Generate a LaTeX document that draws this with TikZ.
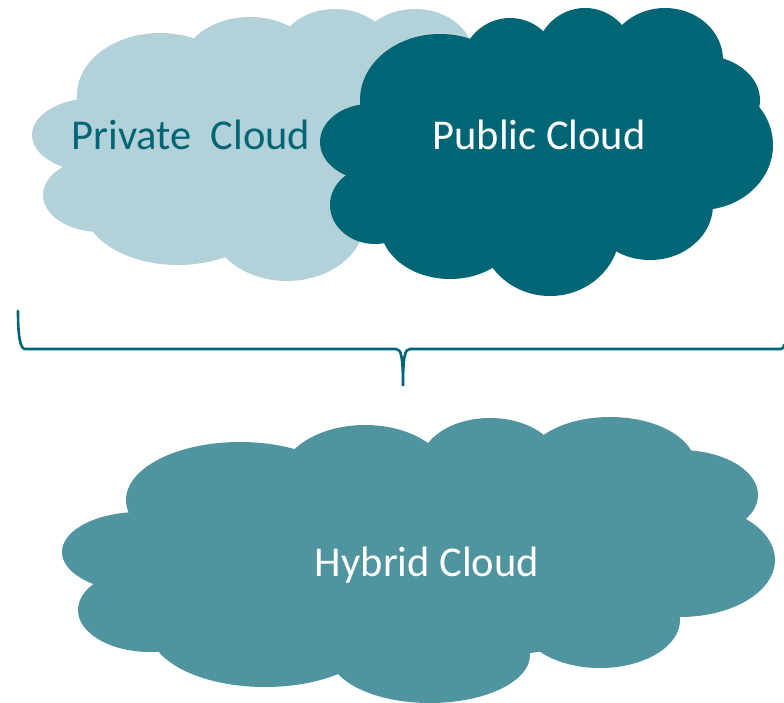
\documentclass[tikz,border=0pt]{standalone}
\usepackage{fontspec}
\setmainfont{Carlito}
\definecolor{lightcloud}{HTML}{B3D1D8}
\definecolor{darkcloud}{HTML}{006675}
\definecolor{midcloud}{HTML}{4F949F}
\tikzset{
  cloudtext/.style={font=\fontsize{42.5pt}{46pt}\selectfont, inner sep=0pt},
  bracket/.style={draw=darkcloud, line width=2.6pt, line cap=round}
}
\begin{document}
\begin{tikzpicture}[x=1pt, y=-1pt]
  \useasboundingbox (0,0) rectangle (784,703);
  % private cloud
  \foreach \cx/\cy/\rx/\ry in {160/95/83/62, 250/70/70/53, 335/50/55/41, 415/55/58/46,
      95/135/63/37, 100/195/57/37, 178/205/95/60, 287/220/78/61, 250/140/150/90, 340/110/70/70}
    \fill[lightcloud] (\cx,\cy) ellipse ({\rx} and {\ry});
  % public cloud
  \foreach \cx/\cy/\rx/\ry in {440/100/80/66, 510/70/50/52, 585/60/50/52, 665/60/58/52,
      700/100/60/45, 700/145/73/65, 650/205/63/55, 550/230/70/66, 450/225/70/54,
      375/205/45/39, 370/142/50/38, 540/150/170/100}
    \fill[darkcloud] (\cx,\cy) ellipse ({\rx} and {\ry});
  % hybrid cloud
  \foreach \cx/\cy/\rx/\ry in {240/500/114/58, 365/480/85/55, 490/465/70/47, 610/465/85/48,
      680/495/78/45, 680/560/95/57, 600/620/80/48, 430/655/100/48, 265/630/115/57,
      150/610/72/42, 140/552/78/40, 420/560/300/100}
    \fill[midcloud] (\cx,\cy) ellipse ({\rx} and {\ry});
  \node[cloudtext, text=darkcloud] (private) at (191,135) {Private\ \ Cloud};
  \node[cloudtext, text=white] (public) at (539,135) {Public Cloud};
  \node[cloudtext, text=white] (hybrid) at (427,565) {Hybrid Cloud};
  % brace
  \draw[bracket] (18,311) .. controls (18,335) and (20,349) .. (25,349)
    -- (396,349) .. controls (401,349) and (403,356) .. (403,386)
    .. controls (403,356) and (405,349) .. (410,349) -- (781,349)
    .. controls (783,349) and (784,347) .. (784,345);
\end{tikzpicture}
\end{document}
